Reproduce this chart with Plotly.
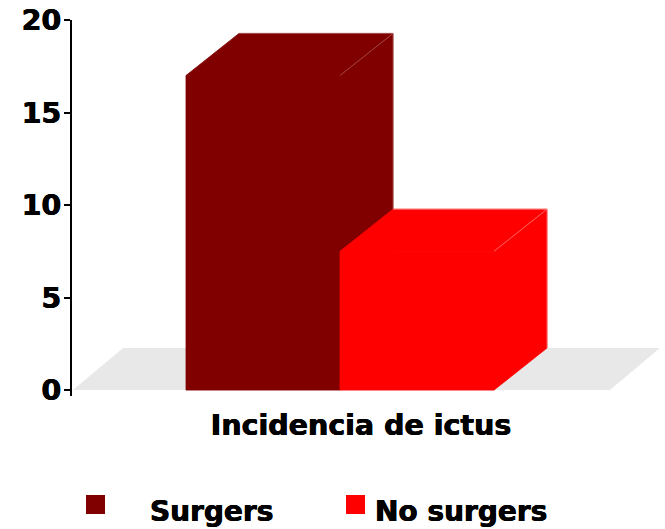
import plotly.graph_objects as go

categories = ["Incidencia de ictus"]
series_names = ["Surgers", "No surgers"]
series_values = [17, 7.5]
series_colors = ["#800000", "#ff0000"]
edge_colors = ["#b06060", "#ff8888"]
y_ticks = [0, 5, 10, 15, 20]

FONT = "DejaVu Sans"
SHADOW = "0.4px 0 0 #000, -0.4px 0 0 #000"
W, H = 665, 529
L, R, T, B = 72, 1, 20, 133
PW, PH = W - L - R, H - T - B
UX = 154              # pixels per bar width
UY = 18.47            # pixels per y unit
DX, DY = 53 / UX, 42 / UY   # 3-D depth in data units
FLOOR_DX = 50 / UX
x_range = [-268 / UX, (664 - 340) / UX]
y_range = [-0.32, 20]


def paper_x(px):
    return (px - L) / PW


def paper_y(py):
    return (T + PH - py) / PH


fig = go.Figure()


def face(xs, ys, color):
    fig.add_trace(go.Scatter(x=xs, y=ys, mode="lines", fill="toself", fillcolor=color,
                             line=dict(width=0.8, color=color), hoverinfo="skip", showlegend=False))


def edge(xs, ys, color):
    fig.add_trace(go.Scatter(x=xs, y=ys, mode="lines", line=dict(width=0.7, color=color),
                             hoverinfo="skip", showlegend=False))


for i, (v, c, e) in enumerate(zip(series_values, series_colors, edge_colors)):
    x0, x1 = i - 1, i
    face([x1, x1 + DX, x1 + DX, x1, x1], [0, DY, v + DY, v, 0], c)        # side
    face([x0, x0 + DX, x1 + DX, x1, x0], [v, v + DY, v + DY, v, v], c)    # top
    face([x0, x1, x1, x0, x0], [0, 0, v, v, 0], c)                        # front
    edge([x1, x1 + DX], [v, v + DY], e)
    edge([x0 + DX, x1 + DX, x1 + DX], [v + DY, v + DY, DY], e)

# floor
fx0, fx1 = (73 - 340) / UX, (610 - 340) / UX
shapes = [dict(type="path", xref="x", yref="y", layer="below", line=dict(width=0), fillcolor="#e8e8e8",
               path=f"M{fx0},0 L{fx1},0 L{fx1 + FLOOR_DX},{DY} L{fx0 + FLOOR_DX},{DY} Z")]

# legend
annotations = []
swatch_x = [86, 346]
label_x = [150, 375]
for name, col, sx, lx in zip(series_names, series_colors, swatch_x, label_x):
    shapes.append(dict(type="rect", xref="paper", yref="paper", line=dict(width=0), fillcolor=col,
                       x0=paper_x(sx), x1=paper_x(sx + 19), y0=paper_y(514), y1=paper_y(495)))
    annotations.append(dict(text=f"<b>{name}</b>", xref="paper", yref="paper", showarrow=False,
                            x=paper_x(lx), y=paper_y(511), xanchor="left", yanchor="middle", xshift=-2,
                            font=dict(family=FONT, size=28, color="#000", shadow=SHADOW)))

fig.update_layout(
    width=W, height=H, margin=dict(l=L, r=R, t=T, b=B, autoexpand=False),
    paper_bgcolor="white", plot_bgcolor="white", showlegend=False,
    shapes=shapes, annotations=annotations,
    xaxis=dict(range=x_range, showgrid=False, zeroline=False, showline=False,
               tickmode="array", tickvals=[(361 - 340) / UX], ticktext=[f"<b>{categories[0]}</b>"],
               ticks="", ticklabelstandoff=9,
               tickfont=dict(family=FONT, size=28.5, color="#000", shadow=SHADOW)),
    yaxis=dict(range=y_range, showgrid=False, zeroline=False, showline=True, linecolor="#000", linewidth=2,
               tickmode="array", tickvals=y_ticks, ticktext=[f"<b>{t}</b>" for t in y_ticks],
               ticks="outside", ticklen=6, tickwidth=2, tickcolor="#000", ticklabeloverflow="allow",
               ticklabelstandoff=-3,
               tickfont=dict(family=FONT, size=28.5, color="#000", shadow=SHADOW)),
)
fig.write_html("out.html", post_script="document.body.style.margin='0';",
               config={"displayModeBar": False})
